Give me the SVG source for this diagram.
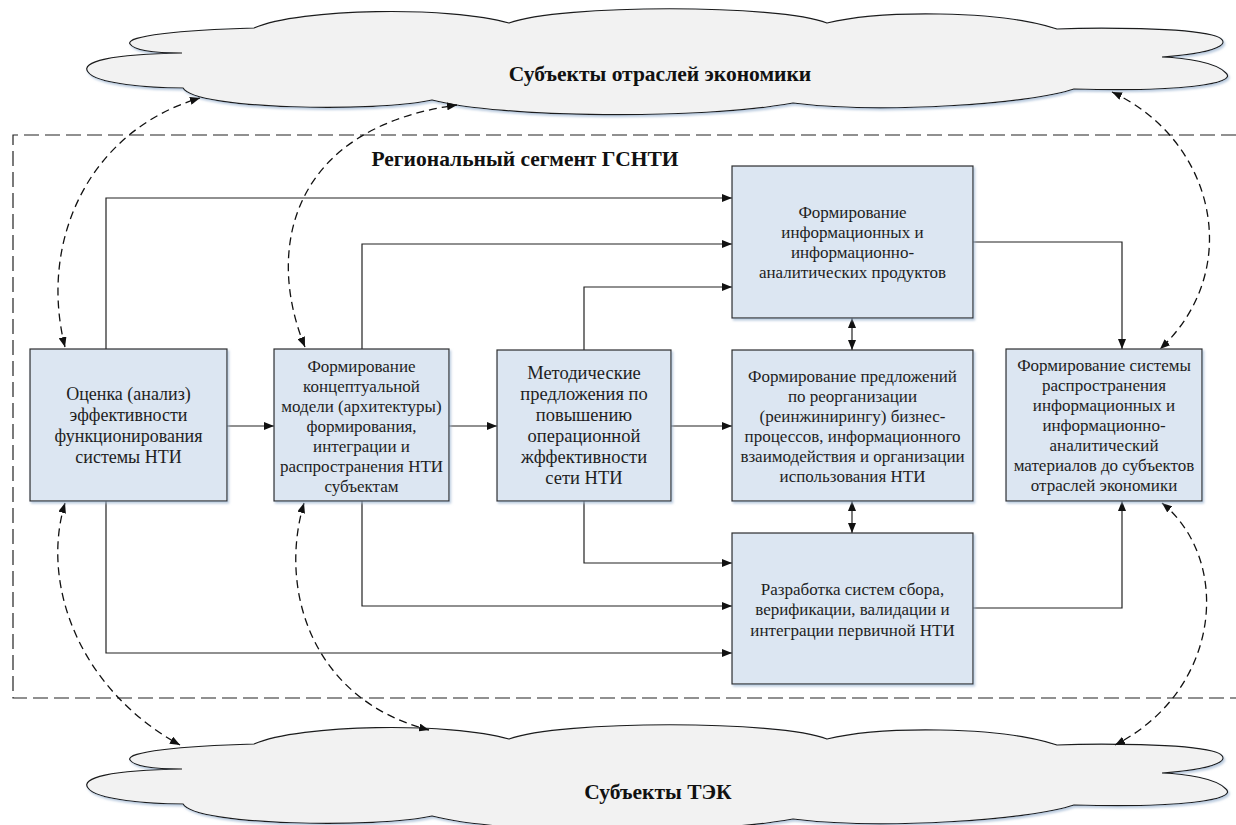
<svg xmlns="http://www.w3.org/2000/svg" width="1236" height="825" viewBox="0 0 1236 825">
<defs>
<style>
.box{fill:#dce6f2;stroke:#2b2b2b;stroke-width:1.2;filter:url(#sh)}
.cloud{fill:#f2f2f2;stroke:#1a1a1a;stroke-width:1.2;filter:url(#sh)}
.t{font-family:"Liberation Serif","Times New Roman",serif;font-size:17px;fill:#1e1e1e;text-anchor:middle}
.b{font-family:"Liberation Serif","Times New Roman",serif;font-size:21.5px;font-weight:bold;fill:#111}
.c{fill:none;stroke:#222;stroke-width:1.2}
.d{fill:none;stroke:#111;stroke-width:1.3;stroke-dasharray:8,5}
.frame{fill:none;stroke:#222;stroke-width:1.2;stroke-dasharray:15,6}
</style>
<filter id="sh" x="-5%" y="-5%" width="110%" height="115%">
<feDropShadow dx="1.5" dy="2" stdDeviation="1.2" flood-color="#9fb6d2" flood-opacity="0.7"/>
</filter>
<marker id="ah" viewBox="0 0 10 8" refX="10" refY="4" markerWidth="10" markerHeight="8" markerUnits="userSpaceOnUse" orient="auto-start-reverse">
<path d="M0,0 L10,4 L0,8 z" fill="#111"/>
</marker>
<path id="cloudShape" d="M 182,53 C 110,54 80,62 88,72 C 96,84 150,88 183,88 C 195,110 380,112 432,100 C 500,118 700,120 793,103 C 880,114 1030,104 1074,89 C 1180,92 1238,84 1226,73 C 1216,62 1185,58 1162,57 C 1230,52 1232,40 1212,35 C 1185,28 1100,27 1057,29 C 1000,10 880,10 827,23 C 780,4 560,4 509,23 C 450,6 300,8 254,28 C 180,30 125,36 130,44 C 135,52 160,53 182,53 Z"/>
</defs>
<rect width="1236" height="825" fill="#fff"/>

<g id="frame">
<path class="frame" d="M 1236,135 H 13 V 698 H 1236"/>
<text class="b" x="525" y="166" text-anchor="middle">Региональный сегмент ГСНТИ</text>
</g>

<g id="cloud-top">
<use href="#cloudShape" class="cloud"/>
<text class="b" x="660" y="81" text-anchor="middle">Субъекты отраслей экономики</text>
</g>

<g id="cloud-bottom">
<use href="#cloudShape" class="cloud" transform="translate(0,716)"/>
<text class="b" x="658" y="799" text-anchor="middle">Субъекты ТЭК</text>
</g>

<g id="connectors">
<path class="c" d="M 227,426 H 274" marker-end="url(#ah)"/>
<path class="c" d="M 449,426 H 497" marker-end="url(#ah)"/>
<path class="c" d="M 671,426 H 732" marker-end="url(#ah)"/>
<path class="c" d="M 106,349 V 198 H 732" marker-end="url(#ah)"/>
<path class="c" d="M 362,349 V 244 H 732" marker-end="url(#ah)"/>
<path class="c" d="M 584,350 V 287 H 732" marker-end="url(#ah)"/>
<path class="c" d="M 106,501 V 653 H 732" marker-end="url(#ah)"/>
<path class="c" d="M 362,501 V 606 H 732" marker-end="url(#ah)"/>
<path class="c" d="M 584,501 V 563 H 732" marker-end="url(#ah)"/>
<path class="c" d="M 973,242 H 1122 V 349" marker-end="url(#ah)"/>
<path class="c" d="M 973,608 H 1122 V 501" marker-end="url(#ah)"/>
<path class="c" d="M 852,318 V 350" marker-start="url(#ah)" marker-end="url(#ah)"/>
<path class="c" d="M 852,501 V 533" marker-start="url(#ah)" marker-end="url(#ah)"/>
<path class="d" d="M 65,347 C 38,240 90,130 200,98" marker-start="url(#ah)" marker-end="url(#ah)"/>
<path class="d" d="M 305,347 C 265,250 290,128 457,105" marker-start="url(#ah)" marker-end="url(#ah)"/>
<path class="d" d="M 1112,92 C 1215,140 1245,270 1160,349" marker-start="url(#ah)" marker-end="url(#ah)"/>
<path class="d" d="M 65,503 C 40,585 80,690 180,745" marker-start="url(#ah)" marker-end="url(#ah)"/>
<path class="d" d="M 304,503 C 278,590 312,700 429,730" marker-start="url(#ah)" marker-end="url(#ah)"/>
<path class="d" d="M 1162,503 C 1232,560 1222,690 1115,745" marker-start="url(#ah)" marker-end="url(#ah)"/>
</g>

<g id="box1">
<rect class="box" x="30" y="349" width="197" height="152"/>
<text class="t" style="font-size:18px"><tspan x="128.5" y="400">Оценка (анализ)</tspan><tspan x="128.5" y="421">эффективности</tspan><tspan x="128.5" y="442">функционирования</tspan><tspan x="128.5" y="463">системы НТИ</tspan></text>
</g>

<g id="box2">
<rect class="box" x="274" y="349" width="175" height="152"/>
<text class="t"><tspan x="361.5" y="372">Формирование</tspan><tspan x="361.5" y="392">концептуальной</tspan><tspan x="361.5" y="412">модели (архитектуры)</tspan><tspan x="361.5" y="432">формирования,</tspan><tspan x="361.5" y="452">интеграции и</tspan><tspan x="361.5" y="472">распространения НТИ</tspan><tspan x="361.5" y="492">субъектам</tspan></text>
</g>

<g id="box3">
<rect class="box" x="497" y="350" width="174" height="151"/>
<text class="t" style="font-size:18.5px"><tspan x="584" y="379">Методические</tspan><tspan x="584" y="400">предложения по</tspan><tspan x="584" y="421">повышению</tspan><tspan x="584" y="442">операционной</tspan><tspan x="584" y="463">жффективности</tspan><tspan x="584" y="484">сети НТИ</tspan></text>
</g>

<g id="box4">
<rect class="box" x="732" y="166" width="241" height="152"/>
<text class="t"><tspan x="852.5" y="218">Формирование</tspan><tspan x="852.5" y="238">информационных и</tspan><tspan x="852.5" y="258">информационно-</tspan><tspan x="852.5" y="278">аналитических продуктов</tspan></text>
</g>

<g id="box5">
<rect class="box" x="732" y="350" width="241" height="151"/>
<text class="t"><tspan x="852.5" y="382">Формирование предложений</tspan><tspan x="852.5" y="402">по реорганизации</tspan><tspan x="852.5" y="422">(реинжинирингу) бизнес-</tspan><tspan x="852.5" y="442">процессов, информационного</tspan><tspan x="852.5" y="462">взаимодействия и организации</tspan><tspan x="852.5" y="482">использования НТИ</tspan></text>
</g>

<g id="box6">
<rect class="box" x="732" y="533" width="241" height="151"/>
<text class="t"><tspan x="852.5" y="595">Разработка систем сбора,</tspan><tspan x="852.5" y="615">верификации, валидации и</tspan><tspan x="852.5" y="636">интеграции первичной НТИ</tspan></text>
</g>

<g id="box7">
<rect class="box" x="1006" y="349" width="196" height="152"/>
<text class="t"><tspan x="1104" y="371">Формирование системы</tspan><tspan x="1104" y="391">распространения</tspan><tspan x="1104" y="411">информационных и</tspan><tspan x="1104" y="431">информационно-</tspan><tspan x="1104" y="451">аналитический</tspan><tspan x="1104" y="471">материалов до субъектов</tspan><tspan x="1104" y="491">отраслей экономики</tspan></text>
</g>
</svg>
